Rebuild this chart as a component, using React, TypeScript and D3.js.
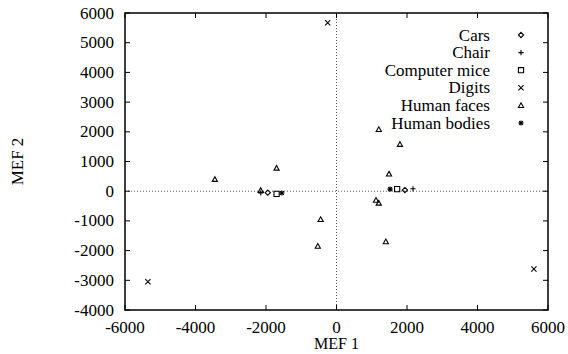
import React, { useEffect, useRef } from 'react';
import * as d3 from 'd3';

const xTicks = [-6000, -4000, -2000, 0, 2000, 4000, 6000];
const yTicks = [-4000, -3000, -2000, -1000, 0, 1000, 2000, 3000, 4000, 5000, 6000];

const seriesNames = ['Cars', 'Chair', 'Computer mice', 'Digits', 'Human faces', 'Human bodies'];
const seriesShapes = ['diamond', 'plus', 'square', 'cross', 'triangle', 'star'];

const cars = [[-1950, -50], [1940, 40]];
const chair = [[-2150, -60], [2170, 80]];
const mice = [[-1700, -90], [1720, 70]];
const digits = [[-250, 5670], [-5350, -3050], [5600, -2620]];
const faces = [
  [-3450, 400], [-1700, 780], [-2150, 30], [1490, 580], [1120, -300], [1200, -400],
  [-450, -950], [-530, -1850], [1400, -1700], [1200, 2080], [1800, 1580],
];
const bodies = [[-1550, -60], [1520, 70]];

const allSeries = [cars, chair, mice, digits, faces, bodies];

function shapePath(kind: string, r: number) {
  switch (kind) {
    case 'diamond':
      return `M0,${-r}L${r},0L0,${r}L${-r},0Z`;
    case 'plus':
      return `M${-r},0H${r}M0,${-r}V${r}`;
    case 'square':
      return `M${-r},${-r}H${r}V${r}H${-r}Z`;
    case 'cross':
      return `M${-r},${-r}L${r},${r}M${-r},${r}L${r},${-r}`;
    case 'triangle':
      return `M0,${-r}L${r},${r * 0.8}L${-r},${r * 0.8}Z`;
    default:
      return `M${-r},0H${r}M0,${-r}V${r}M${-r * 0.75},${-r * 0.75}L${r * 0.75},${r * 0.75}M${-r * 0.75},${r * 0.75}L${r * 0.75},${-r * 0.75}`;
  }
}

function App() {
  const svgRef = useRef<SVGSVGElement>(null);

  useEffect(() => {
    const svg = d3.select(svgRef.current);
    svg.selectAll('*').remove();

    const left = 125, right = 548, top = 13, bottom = 310;
    const x = d3.scaleLinear().domain([-6000, 6000]).range([left, right]);
    const y = d3.scaleLinear().domain([-4000, 6000]).range([bottom, top]);
    const font = 'Liberation Serif, Times New Roman, serif';
    const fs = 17;

    // zero lines
    svg.append('line')
      .attr('x1', left).attr('x2', right)
      .attr('y1', y(0)).attr('y2', y(0))
      .attr('stroke', '#555').attr('stroke-dasharray', '1,2');
    svg.append('line')
      .attr('x1', x(0)).attr('x2', x(0))
      .attr('y1', top).attr('y2', bottom)
      .attr('stroke', '#555').attr('stroke-dasharray', '1,2');

    // ticks, mirrored on top and right
    const ticks = svg.append('g').attr('stroke', '#000').attr('stroke-width', 1);
    xTicks.forEach(t => {
      ticks.append('line').attr('x1', x(t)).attr('x2', x(t)).attr('y1', bottom).attr('y2', bottom - 5);
      ticks.append('line').attr('x1', x(t)).attr('x2', x(t)).attr('y1', top).attr('y2', top + 5);
    });
    yTicks.forEach(t => {
      ticks.append('line').attr('x1', left).attr('x2', left + 5).attr('y1', y(t)).attr('y2', y(t));
      ticks.append('line').attr('x1', right).attr('x2', right - 5).attr('y1', y(t)).attr('y2', y(t));
    });

    svg.append('rect')
      .attr('x', left).attr('y', top)
      .attr('width', right - left).attr('height', bottom - top)
      .attr('fill', 'none').attr('stroke', '#000').attr('stroke-width', 1.5);

    svg.append('g').selectAll('text')
      .data(xTicks).enter().append('text')
      .attr('x', d => x(d)).attr('y', 333)
      .attr('text-anchor', 'middle')
      .attr('font-family', font).attr('font-size', fs)
      .text(d => d);

    svg.append('g').selectAll('text')
      .data(yTicks).enter().append('text')
      .attr('x', 114).attr('y', d => y(d) + 5.5)
      .attr('text-anchor', 'end')
      .attr('font-family', font).attr('font-size', fs)
      .text(d => d);

    svg.append('text')
      .attr('x', x(0)).attr('y', 349)
      .attr('text-anchor', 'middle')
      .attr('font-family', font).attr('font-size', 16)
      .text('MEF 1');

    svg.append('text')
      .attr('transform', `translate(23,${(top + bottom) / 2}) rotate(-90)`)
      .attr('text-anchor', 'middle')
      .attr('font-family', font).attr('font-size', fs)
      .text('MEF 2');

    // points
    allSeries.forEach((pts, i) => {
      svg.append('g')
        .selectAll('path')
        .data(pts).enter().append('path')
        .attr('transform', d => `translate(${x(d[0])},${y(d[1])})`)
        .attr('d', shapePath(seriesShapes[i], 2.6))
        .attr('fill', 'none').attr('stroke', '#000').attr('stroke-width', 1.1);
    });

    // legend
    const legend = svg.append('g');
    seriesNames.forEach((name, i) => {
      const ly = 35 + i * 17.6;
      legend.append('text')
        .attr('x', 490).attr('y', ly + 5.5)
        .attr('text-anchor', 'end')
        .attr('font-family', font).attr('font-size', fs)
        .text(name);
      legend.append('path')
        .attr('transform', `translate(521,${ly})`)
        .attr('d', shapePath(seriesShapes[i], 2.6))
        .attr('fill', 'none').attr('stroke', '#000').attr('stroke-width', 1.1);
    });
  }, []);

  return (
    <svg ref={svgRef} width="568" height="354"
      style={{ position: 'absolute', left: 0, top: 0, background: '#fff' }}></svg>
  );
}

export default App;
